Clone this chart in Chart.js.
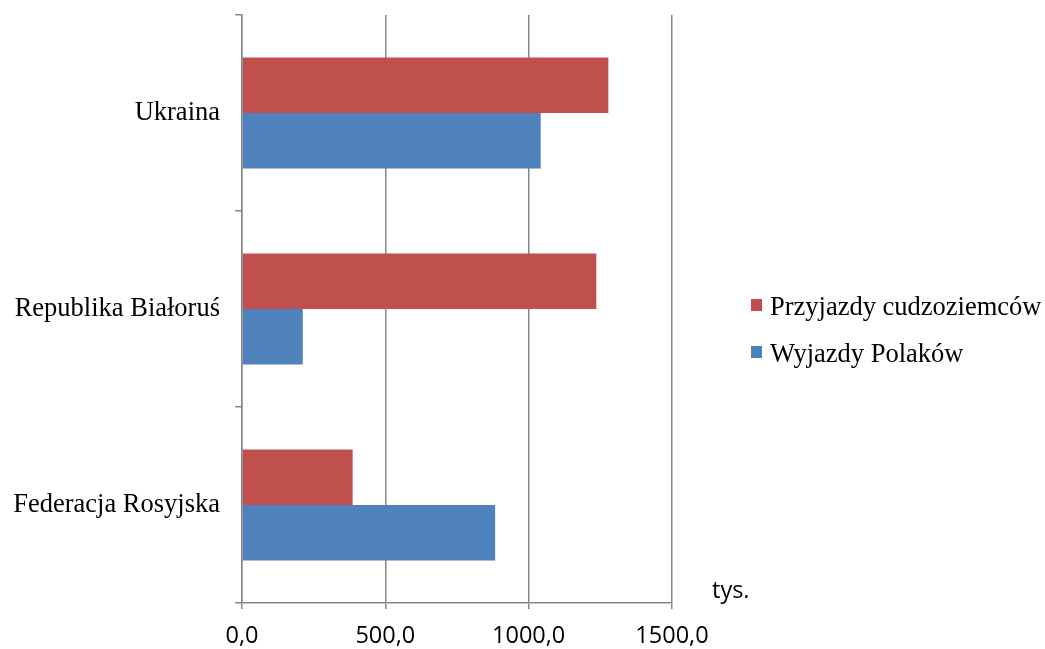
<!DOCTYPE html>
<html>
<head>
<meta charset="utf-8">
<script src="https://cdn.jsdelivr.net/npm/chart.js@4"></script>
<style>
  html, body { margin: 0; padding: 0; background: #fff; }
  #wrap { width: 1045px; height: 649px; }
</style>
</head>
<body>
<div id="wrap"><canvas id="chart"></canvas></div>
<script>
const categories = ['Ukraina', 'Republika Białoruś', 'Federacja Rosyjska'];
const przyjazdy = [1278, 1236, 386];
const wyjazdy = [1042, 212, 883];
const xTickLabels = ['0,0', '500,0', '1000,0', '1500,0'];
const seriesNames = ['Przyjazdy cudzoziemców', 'Wyjazdy Polaków'];
const seriesColors = ['#C0504D', '#4F81BD'];
const unitLabel = 'tys.';

const axisGray = '#878787';

// legend and unit label drawn next to the plot
const extrasPlugin = {
    id: 'extras',
    afterDraw(chart) {
        const ctx = chart.ctx;
        const area = chart.chartArea;
        ctx.save();
        ctx.font = '26.5px "Liberation Serif"';
        ctx.textBaseline = 'alphabetic';
        ctx.textAlign = 'left';
        seriesNames.forEach((name, i) => {
            const y = area.top + 292 + i * 47;
            ctx.fillStyle = seriesColors[i];
            ctx.fillRect(area.right + 79, y - 8, 11, 12);
            ctx.fillStyle = '#000';
            ctx.fillText(name, area.right + 98, y + 8);
        });
        ctx.font = '23.5px "Open Sans"';
        ctx.fillText(unitLabel, area.right + 40, area.bottom - 5);
        ctx.restore();
    }
};

const ctx = document.getElementById('chart').getContext('2d');
new Chart(ctx, {
    type: 'bar',
    data: {
        labels: categories,
        datasets: [
            {
                label: seriesNames[0],
                data: przyjazdy,
                backgroundColor: seriesColors[0],
                categoryPercentage: 0.566,
                barPercentage: 1.0,
            },
            {
                label: seriesNames[1],
                data: wyjazdy,
                backgroundColor: seriesColors[1],
                categoryPercentage: 0.566,
                barPercentage: 1.0,
            },
        ],
    },
    options: {
        indexAxis: 'y',
        responsive: true,
        maintainAspectRatio: false,
        animation: false,
        layout: {
            padding: { top: 15, right: 373, left: 0, bottom: 0 },
        },
        plugins: {
            legend: { display: false },
            tooltip: { enabled: false },
        },
        scales: {
            x: {
                min: 0,
                max: 1500,
                ticks: {
                    stepSize: 500,
                    color: '#000',
                    padding: 13,
                    font: { family: 'Open Sans', size: 23.5 },
                    callback: (value, i) => xTickLabels[i],
                },
                grid: {
                    color: axisGray,
                    lineWidth: 1.5,
                    tickLength: 6,
                },
                border: { color: axisGray, width: 1.5 },
                afterFit: (scale) => { scale.height = 46; },
            },
            y: {
                ticks: {
                    color: '#000',
                    padding: 15,
                    font: { family: 'Liberation Serif', size: 26.5 },
                },
                grid: {
                    drawOnChartArea: false,
                    color: axisGray,
                    lineWidth: 1.5,
                    tickLength: 7,
                },
                border: { color: axisGray, width: 1.5 },
                afterFit: (scale) => {
                    scale.width = 242;
                    scale.paddingTop = 0;
                    scale.paddingBottom = 0;
                },
            },
        },
    },
    plugins: [extrasPlugin],
});
</script>
</body>
</html>
